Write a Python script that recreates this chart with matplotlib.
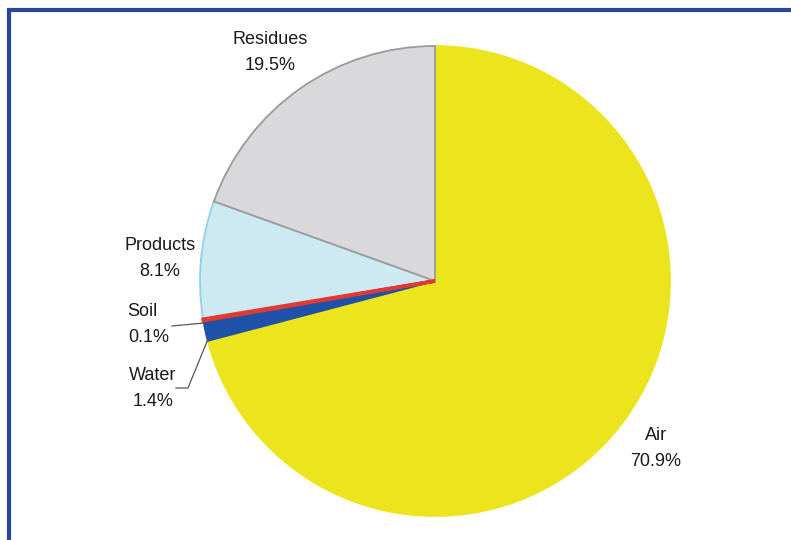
import matplotlib
matplotlib.use("Agg")
import matplotlib.pyplot as plt
from matplotlib.lines import Line2D

labels = ["Air", "Water", "Soil", "Products", "Residues"]
values = [70.9, 1.4, 0.1, 8.1, 19.5]
pct_labels = ["70.9%", "1.4%", "0.1%", "8.1%", "19.5%"]
colors = ["#ece51d", "#1f51a8", "#e03a32", "#cde9f1", "#d9d9db"]
edges = ["#ece51d", "#1f51a8", "#e03a32", "#8fd0ee", "#9a9a9a"]

W, H = 791, 540
fig = plt.figure(figsize=(W / 100, H / 100), dpi=100)
ax = fig.add_axes([0, 0, 1, 1])

cx, cy, r = 435, H - 281, 235
wedges, _ = ax.pie(values, colors=colors, startangle=90, counterclock=False,
                   center=(cx, cy), radius=r, frame=True,
                   wedgeprops=dict(linewidth=1.3))
for w, ec in zip(wedges, edges):
    w.set_edgecolor(ec)
wedges[2].set_linewidth(2.6)
wedges[2].set_zorder(5)
ax.set_xlim(0, W)
ax.set_ylim(0, H)
ax.set_aspect("equal")
ax.axis("off")

font = dict(family=["Liberation Sans", "DejaVu Sans"], fontsize=13, color="#1a1a1a")
pos = {
    "Air": (656, 435),
    "Water": (153, 376),
    "Soil": (142, 311),
    "Products": (160, 245),
    "Residues": (270, 40),
}
for lab, pct in zip(labels, pct_labels):
    x, y = pos[lab]
    ax.text(x, H - y, lab, ha="center", va="center", **font)
    ax.text(x + (7 if lab == "Soil" else 0), H - y - 26, pct, ha="center", va="center", **font)

# leader lines
ax.add_line(Line2D([172, 204], [H - 326, H - 323], color="#555555", lw=0.9))
ax.add_line(Line2D([176, 188, 208], [H - 388, H - 388, H - 339], color="#555555", lw=0.9))

# frame (top and left)
ax.add_line(Line2D([8.5, 8.5], [0, H - 9.5], color="#2a4599", lw=3, solid_capstyle="butt"))
ax.add_line(Line2D([7, W], [H - 9.5, H - 9.5], color="#2a4599", lw=3, solid_capstyle="butt"))

fig.savefig("out.png", dpi=100)
